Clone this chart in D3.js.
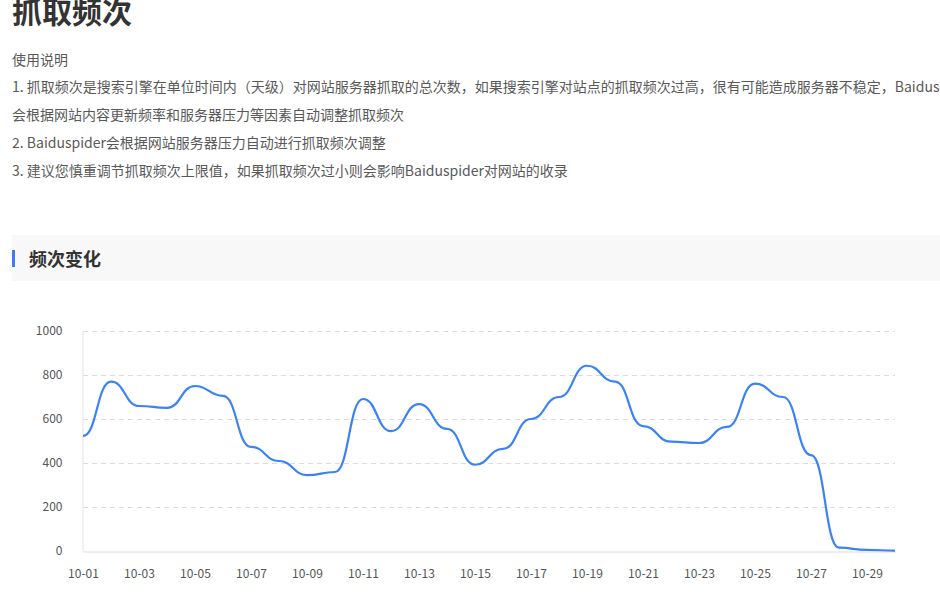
<!DOCTYPE html>
<html>
<head>
<meta charset="utf-8">
<script src="https://cdn.jsdelivr.net/npm/d3@7/dist/d3.min.js"></script>
<style>
  html, body { margin: 0; padding: 0; background: #fff; overflow: hidden; }
  svg { display: block; }
</style>
</head>
<body>
<script>
const pageTitle = "抓取频次";
const notes = [
  "使用说明",
  "1. 抓取频次是搜索引擎在单位时间内（天级）对网站服务器抓取的总次数，如果搜索引擎对站点的抓取频次过高，很有可能造成服务器不稳定，Baiduspider",
  "会根据网站内容更新频率和服务器压力等因素自动调整抓取频次",
  "2. Baiduspider会根据网站服务器压力自动进行抓取频次调整",
  "3. 建议您慎重调节抓取频次上限值，如果抓取频次过小则会影响Baiduspider对网站的收录"
];
const sectionTitle = "频次变化";

const dates = ["10-01","10-02","10-03","10-04","10-05","10-06","10-07","10-08","10-09","10-10",
               "10-11","10-12","10-13","10-14","10-15","10-16","10-17","10-18","10-19","10-20",
               "10-21","10-22","10-23","10-24","10-25","10-26","10-27","10-28","10-29","10-30"];
const counts = [523, 770, 659, 651, 750, 705, 473, 409, 345, 359,
                691, 545, 668, 555, 392, 464, 600, 700, 842, 770,
                568, 497, 491, 564, 761, 700, 436, 15, 5, 2];
const yTicks = [0, 200, 400, 600, 800, 1000];
const xTickLabels = dates.filter((d, i) => i % 2 === 0);

const W = 940, H = 596;
const font = "'Noto Sans CJK SC', 'Noto Sans', sans-serif";
const svg = d3.select("body").append("svg").attr("width", W).attr("height", H)
  .style("font-family", font);

// Title
svg.append("text").attr("x", 12).attr("y", 23)
  .attr("font-size", 30).attr("font-weight", "bold").attr("fill", "#333")
  .text(pageTitle);

// Notes
const noteBase = [64.5, 92, 120, 148, 176];
notes.forEach((t, i) => {
  svg.append("text").attr("x", 12).attr("y", noteBase[i])
    .attr("font-size", 14).attr("fill", "#595959")
    .text(t);
});

// Section header
svg.append("rect").attr("x", 12).attr("y", 235).attr("width", W).attr("height", 46).attr("fill", "#f8f8f8");
svg.append("rect").attr("x", 12).attr("y", 250).attr("width", 3).attr("height", 17).attr("fill", "#3a7ef4");
svg.append("text").attr("x", 29).attr("y", 265.5)
  .attr("font-size", 18).attr("font-weight", "bold").attr("fill", "#333")
  .text(sectionTitle);

// Chart
const x = d3.scalePoint().domain(dates).range([83, 895]);
const y = d3.scaleLinear().domain([0, 1000]).range([551, 331]);

const g = svg.append("g");

// grid lines
g.selectAll("line.grid").data(yTicks.filter(v => v > 0)).join("line")
  .attr("class", "grid")
  .attr("x1", 83).attr("x2", 895)
  .attr("y1", d => y(d)).attr("y2", d => y(d))
  .attr("stroke", "#dcdcdc").attr("stroke-width", 1)
  .attr("stroke-dasharray", "5,4")
  .attr("shape-rendering", "crispEdges");

// y axis
const yAxis = g.append("g").attr("transform", "translate(82.5,0)")
  .call(d3.axisLeft(y).tickValues(yTicks).tickSize(0).tickPadding(20).tickFormat(d3.format("d")));
yAxis.select(".domain").attr("stroke", "#e3e3e3");
yAxis.selectAll("text").attr("font-size", 12).attr("fill", "#555").attr("font-family", font);

// x axis
const xAxis = g.append("g").attr("transform", "translate(0,551.5)")
  .call(d3.axisBottom(x).tickValues(xTickLabels).tickSize(0).tickPadding(18));
xAxis.select(".domain").attr("stroke", "#dcdcdc");
xAxis.selectAll("text").attr("font-size", 12).attr("fill", "#555").attr("font-family", font);

// line
const line = d3.line()
  .x((d, i) => x(dates[i]))
  .y(d => y(d))
  .curve(d3.curveBumpX);
g.append("path").datum(counts)
  .attr("d", line)
  .attr("fill", "none")
  .attr("stroke", "#3b82f4")
  .attr("stroke-width", 2.2)
  .attr("stroke-linejoin", "round");
</script>
</body>
</html>
